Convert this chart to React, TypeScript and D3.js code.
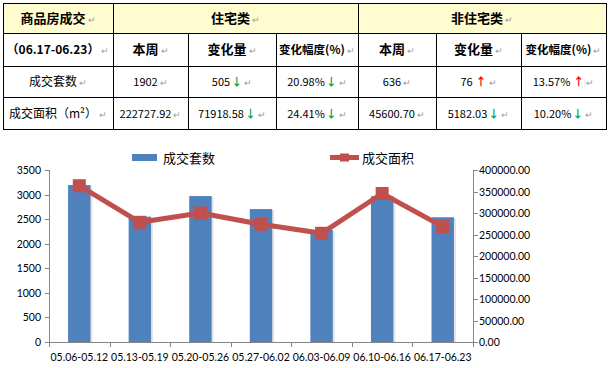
import React from "react";
import * as d3 from "d3";

// weekly chart data
const weeks = ["05.06-05.12", "05.13-05.19", "05.20-05.26", "05.27-06.02", "06.03-06.09", "06.10-06.16", "06.17-06.23"];
const unitsSold = [3195, 2550, 2970, 2705, 2280, 2967, 2538];
const areaSold = [363500, 278400, 300000, 273700, 252800, 345429, 268329];
const leftTicks = [0, 500, 1000, 1500, 2000, 2500, 3000, 3500];
const rightTicks = [0, 50000, 100000, 150000, 200000, 250000, 300000, 350000, 400000];
const seriesNames = ["成交套数", "成交面积"];

// summary table
const groupHeaders = ["商品房成交", "住宅类", "非住宅类"];
const subHeaders = ["（06.17-06.23）", "本周", "变化量", "变化幅度(%)", "本周", "变化量", "变化幅度(%)"];
const rowLabels = ["成交套数", "成交面积（m²）"];
const resWeek = ["1902", "222727.92"];
const resChange = ["505", "71918.58"];
const resPct = ["20.98%", "24.41%"];
const resDir = ["down", "down"];
const nonWeek = ["636", "45600.70"];
const nonChange = ["76", "5182.03"];
const nonPct = ["13.57%", "10.20%"];
const nonDir = ["up", "down"];

const colX = [3, 113, 188, 276, 358, 436, 521, 606];
const rowY = [3, 33, 66, 97, 129];

const CJK = "'Noto Sans CJK SC', sans-serif";
const AX = "Lato, 'Noto Sans', sans-serif";
const BAR = "#4F81BD";
const LINE = "#C0504D";
const AXIS = "#868686";

const Cell = ({ col, row, text, dir, bold, span = 1, size }: any) => {
  const cx = (colX[col] + colX[col + span]) / 2;
  const cy = (rowY[row] + rowY[row + 1]) / 2 + 4.5;
  const fs = size || (bold ? 13 : 11.5);
  return (
    <text x={cx} y={cy} textAnchor="middle" fontFamily={CJK} fontSize={fs}
      fontWeight={bold ? 700 : 400} fill="#000">
      <tspan>{text}</tspan>
      {dir && (
        <tspan dx={dir === "down" ? 1 : 3} fill={dir === "down" ? "#00A651" : "#FF0000"} fontWeight={700}>
          {dir === "down" ? "↓" : "↑"}
        </tspan>
      )}
      <tspan dx={2} fill="#9a9a9a" fontSize={9} fontWeight={400}>↵</tspan>
    </text>
  );
};

const Table = () => {
  const valueCols = [resWeek, resChange, resPct, nonWeek, nonChange, nonPct];
  const dirs = [null, resDir, resDir, null, nonDir, nonDir];
  return (
    <g>
      <rect x={colX[0]} y={rowY[0]} width={colX[7] - colX[0]} height={rowY[1] - rowY[0]} fill="#FFFCCF" />
      {rowY.map((y, i) => (
        <line key={"h" + i} x1={colX[0]} x2={colX[7]} y1={y + 0.5} y2={y + 0.5} stroke="#000" />
      ))}
      {colX.map((x, i) => {
        const top = i === 0 || i === 1 || i === 4 || i === 7 ? rowY[0] : rowY[1];
        return <line key={"v" + i} x1={x + 0.5} x2={x + 0.5} y1={top} y2={rowY[4] + 1} stroke="#000" />;
      })}
      <Cell col={0} row={0} text={groupHeaders[0]} bold />
      <Cell col={1} row={0} span={3} text={groupHeaders[1]} bold />
      <Cell col={4} row={0} span={3} text={groupHeaders[2]} bold />
      {subHeaders.map((h, i) => (
        <Cell key={"s" + i} col={i} row={1} text={h} bold size={i === 3 || i === 6 ? 11.5 : i === 0 ? 12 : 13} />
      ))}
      {rowLabels.map((lab, r) => (
        <g key={"r" + r}>
          <Cell col={0} row={r + 2} text={lab} size={12} />
          {valueCols.map((vals, c) => (
            <Cell key={c} col={c + 1} row={r + 2} text={vals[r]} dir={dirs[c] ? dirs[c]![r] : null} size={11} />
          ))}
        </g>
      ))}
    </g>
  );
};

const Chart = () => {
  const left = 49, right = 473, top = 170, bottom = 342;
  const x = d3.scaleBand<string>().domain(weeks).range([left, right]);
  const yL = d3.scaleLinear().domain([0, 3500]).range([bottom, top]);
  const yR = d3.scaleLinear().domain([0, 400000]).range([bottom, top]);
  const bw = x.bandwidth() * 0.37;
  const cx = (w: string) => (x(w) as number) + x.bandwidth() / 2;
  const line = d3.line<number>().x((_, i) => cx(weeks[i])).y(d => yR(d));
  const fmt = d3.format(".2f");
  const boundaries = weeks.map(w => x(w) as number).concat([right]);

  return (
    <g>
      {/* bars with soft shadow */}
      {unitsSold.map((v, i) => (
        <g key={"b" + i}>
          <rect x={cx(weeks[i]) - bw / 2 + 2} y={yL(v) + 1} width={bw} height={bottom - yL(v) - 1} fill="#e4e4e4" />
          <rect x={cx(weeks[i]) - bw / 2} y={yL(v)} width={bw} height={bottom - yL(v)} fill={BAR} />
        </g>
      ))}

      {/* axes */}
      <line x1={left + 0.5} x2={left + 0.5} y1={top} y2={bottom} stroke={AXIS} />
      <line x1={right + 0.5} x2={right + 0.5} y1={top} y2={bottom} stroke={AXIS} />
      <line x1={left} x2={right + 1} y1={bottom + 0.5} y2={bottom + 0.5} stroke={AXIS} />
      {leftTicks.map(t => (
        <g key={"l" + t}>
          <line x1={left - 4} x2={left} y1={Math.round(yL(t)) + 0.5} y2={Math.round(yL(t)) + 0.5} stroke={AXIS} />
          <text x={41} y={yL(t) + 4} textAnchor="end" fontFamily={AX} fontSize={10.5} fill="#000">{t}</text>
        </g>
      ))}
      {rightTicks.map(t => (
        <g key={"r" + t}>
          <line x1={right} x2={right + 5} y1={Math.round(yR(t)) + 0.5} y2={Math.round(yR(t)) + 0.5} stroke={AXIS} />
          <text x={479} y={yR(t) + 4} fontFamily={AX} fontSize={10.5} fill="#000">{fmt(t)}</text>
        </g>
      ))}
      {boundaries.map((b, i) => (
        <line key={"t" + i} x1={Math.round(b) + 0.5} x2={Math.round(b) + 0.5} y1={bottom} y2={bottom + 5} stroke={AXIS} />
      ))}
      {weeks.map(w => (
        <text key={w} x={cx(w)} y={361} textAnchor="middle" fontFamily={AX} fontSize={10.5} fill="#000">{w}</text>
      ))}

      {/* line series */}
      <path d={line(areaSold) || ""} fill="none" stroke={LINE} strokeWidth={5} strokeLinejoin="round" />
      {areaSold.map((v, i) => (
        <rect key={"m" + i} x={cx(weeks[i]) - 6.5} y={yR(v) - 6.5} width={13} height={13} fill={LINE} />
      ))}

      {/* legend */}
      <rect x={132} y={154} width={25} height={7} fill={BAR} />
      <text x={163} y={162.5} fontFamily={CJK} fontSize={13} fill="#000">{seriesNames[0]}</text>
      <line x1={330} x2={359} y1={157.5} y2={157.5} stroke={LINE} strokeWidth={5} />
      <rect x={340} y={153.5} width={9} height={8} fill={LINE} />
      <text x={362} y={162.5} fontFamily={CJK} fontSize={13} fill="#000">{seriesNames[1]}</text>
    </g>
  );
};

export default function App() {
  return (
    <div style={{ position: "fixed", left: 0, top: 0 }}>
      <svg width={608} height={368} style={{ display: "block", background: "#fff" }}>
        <Table />
        <Chart />
      </svg>
    </div>
  );
}
